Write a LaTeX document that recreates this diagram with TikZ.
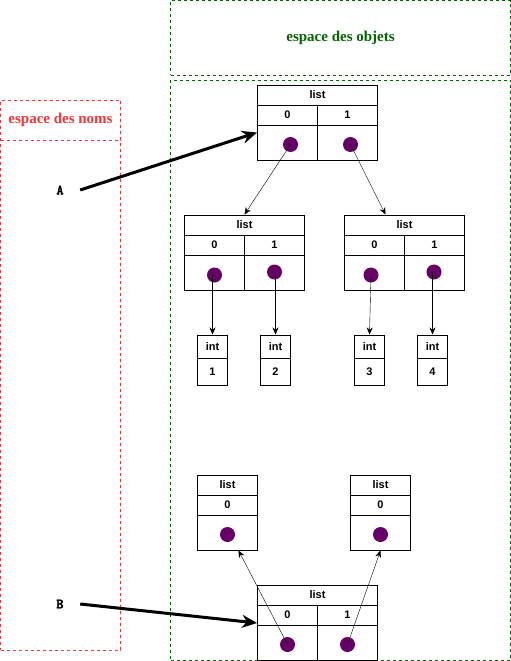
\documentclass[tikz,border=0pt]{standalone}
\usepackage{fontspec}
\setmainfont{Liberation Sans}
\newfontfamily\titlefont{Liberation Serif}
\newfontfamily\varfont[FakeBold=3]{lmmono10-regular.otf}
\usetikzlibrary{arrows.meta}
\definecolor{objgreen}{HTML}{006600}
\definecolor{nomred}{HTML}{FF3333}
\definecolor{refdot}{HTML}{660066}
\tikzset{cell/.style={draw,line width=1pt,inner sep=0pt,minimum height=20pt,
                      font=\fontsize{11}{13}\selectfont\bfseries}}
\tikzset{zone/.style={draw=#1,text=#1,dashed,dash pattern=on 3pt off 3pt,
                      line width=0.8pt,inner sep=0pt,
                      font=\titlefont\fontsize{15}{17}\selectfont\bfseries}}

\begin{document}
\begin{tikzpicture}[x=1pt,y=-1pt,
    >={Stealth[length=7pt,width=6pt]},
    % styles for the list cells
    hdr/.style ={cell, minimum width=120pt},
    idx/.style ={cell, minimum width=60pt},
    val/.style ={cell, minimum width=60pt, minimum height=35pt},
    inthdr/.style ={cell, minimum width=30pt, minimum height=23pt},
    intval/.style ={cell, minimum width=30pt, minimum height=27pt},
    refpt/.style ={circle, fill=refdot, inner sep=0pt, minimum size=15pt},
    var/.style ={font=\varfont\fontsize{14}{16}\selectfont},
    ref/.style ={line width=3pt, -{Stealth[length=15pt,width=13pt]}}
  ]
    \useasboundingbox (0,0) rectangle (511,661);

    % the two spaces
    \node[zone=objgreen, minimum width=340pt, minimum height=74.5pt] (objtitle) at (340.5,38) {espace des objets};
    \node[zone=objgreen, minimum width=340pt, minimum height=580pt] (objzone) at (340.5,370) {};
    \node[zone=nomred, minimum width=120pt, minimum height=550pt] (nomzone) at (60.5,375) {};
    \node[zone=nomred, minimum width=120pt, minimum height=40pt] (nomtitle) at (60.5,120) {espace des noms};

    % names
    \node[var] (A) at (60,190) {A};
    \node[var] (B) at (60,604) {B};

    % top list
    \node[hdr] (T) at (317.5,95) {list};
    \node[idx] (T0) at (287.5,115) {0};
    \node[idx] (T1) at (347.5,115) {1};
    \node[val] (T0v) at (287.5,142.5) {};
    \node[val] (T1v) at (347.5,142.5) {};
    \node[refpt] (T0d) at (290.5,144.5) {};
    \node[refpt] (T1d) at (350.5,144.5) {};

    % inner lists
    \node[hdr] (M1) at (244.5,225) {list};
    \node[idx] (M1a) at (214.5,245) {0};
    \node[idx] (M1b) at (274.5,245) {1};
    \node[val] (M1av) at (214.5,272.5) {};
    \node[val] (M1bv) at (274.5,272.5) {};
    \node[refpt] (M1ad) at (214.5,275) {};
    \node[refpt] (M1bd) at (274.5,272) {};

    \node[hdr] (M2) at (404.5,225) {list};
    \node[idx] (M2a) at (374.5,245) {0};
    \node[idx] (M2b) at (434.5,245) {1};
    \node[val] (M2av) at (374.5,272.5) {};
    \node[val] (M2bv) at (434.5,272.5) {};
    \node[refpt] (M2ad) at (371,275) {};
    \node[refpt] (M2bd) at (434,272) {};

    % ints
    \node[inthdr] (I1) at (212.5,346.5) {int};
    \node[intval] (I1v) at (212.5,371.5) {1};
    \node[inthdr] (I2) at (275.5,346.5) {int};
    \node[intval] (I2v) at (275.5,371.5) {2};
    \node[inthdr] (I3) at (369.5,346.5) {int};
    \node[intval] (I3v) at (369.5,371.5) {3};
    \node[inthdr] (I4) at (432.5,346.5) {int};
    \node[intval] (I4v) at (432.5,371.5) {4};

    % lists of B
    \node[idx] (S1) at (227.5,485) {list};
    \node[idx] (S1a) at (227.5,505) {0};
    \node[val] (S1v) at (227.5,532.5) {};
    \node[refpt] (S1d) at (227.5,534.5) {};

    \node[idx] (S2) at (380.5,485) {list};
    \node[idx] (S2a) at (380.5,505) {0};
    \node[val] (S2v) at (380.5,532.5) {};
    \node[refpt] (S2d) at (380.5,534.5) {};

    \node[hdr] (L) at (317.5,595) {list};
    \node[idx] (L0) at (287.5,615) {0};
    \node[idx] (L1) at (347.5,615) {1};
    \node[val] (L0v) at (287.5,642.5) {};
    \node[val] (L1v) at (347.5,642.5) {};
    \node[refpt] (L0d) at (287.5,644.5) {};
    \node[refpt] (L1d) at (347.5,644.5) {};

    % references
    \draw[ref] ([xshift=13pt]A.east) -- ([yshift=-8pt]T0v.north west);
    \draw[ref] ([xshift=13pt]B.east) -- ([yshift=2.5pt]L0.south west);

    \draw[->] (T0d.center) -- (M1.north);
    \draw[->] (T1d.center) -- ([xshift=-19pt]M2.north);
    \draw[->] (I1.north |- M1ad.center) -- (I1.north);
    \draw[->] (I2.north |- M1bd.center) -- (I2.north);
    \draw[->] (M2ad.center) -- (I3.north);
    \draw[->] (I4.north |- M2bd.center) -- (I4.north);
    \draw[->] (L0d.center) -- ([xshift=11pt]S1v.south);
    \draw[->] (L1d.center) -- (S2v.south);
  \end{tikzpicture}
\end{document}
